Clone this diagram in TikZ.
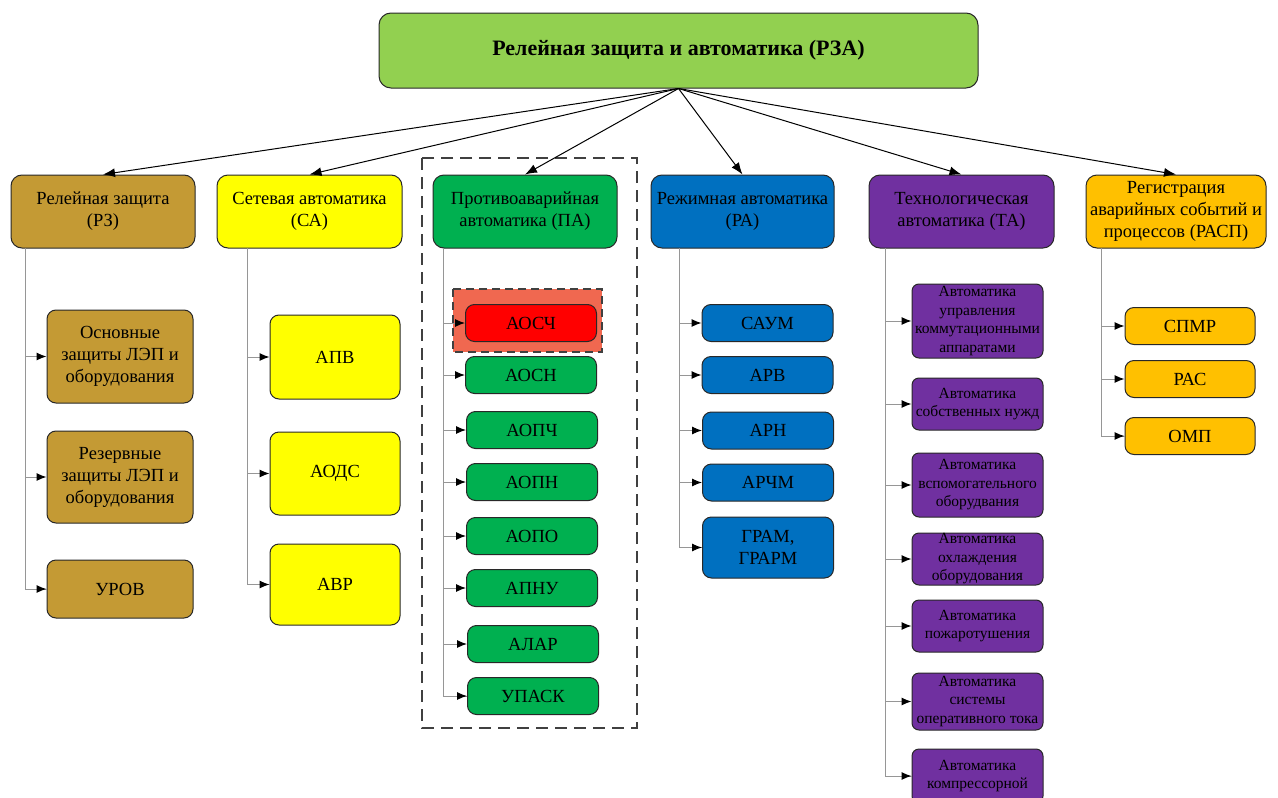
\documentclass[tikz,border=0pt]{standalone}
\usepackage{fontspec}
\setmainfont{Liberation Serif}
\usetikzlibrary{arrows.meta}
\definecolor{cTop}{HTML}{92D050}
\definecolor{cRZ}{RGB}{196,154,52}
\definecolor{cSA}{HTML}{FFFF00}
\definecolor{cPA}{HTML}{00B050}
\definecolor{cRA}{HTML}{0070C0}
\definecolor{cTA}{HTML}{7030A0}
\definecolor{cRASP}{HTML}{FFC000}
\definecolor{cRed}{HTML}{FF0000}
\definecolor{cHi}{RGB}{240,104,80}
\definecolor{cLine}{RGB}{150,150,150}
\definecolor{cBorder}{RGB}{40,40,40}
\tikzset{
  box/.style={draw=cBorder, line width=1pt, rounded corners=9pt, align=center, inner sep=0pt,
    font=\fontsize{18.5}{22}\selectfont},
  hdr/.style={box, minimum height=73pt, rounded corners=11pt},
  small/.style={box, rounded corners=7pt, font=\fontsize{15.5}{18.5}\selectfont},
  toparrow/.style={draw=black, line width=1pt, -{Latex[length=12pt,width=9pt]}},
  vline/.style={draw=cLine, line width=1pt},
  harrow/.style={draw=cLine, line width=1pt, -{Latex[length=10pt,width=8pt,black]}},
}
\begin{document}
\begin{tikzpicture}[x=1pt,y=-1pt]
\useasboundingbox (0,0) rectangle (1278,798);

% dashed frame around PA
\draw[draw=black!75, line width=1.4pt, dash pattern=on 12pt off 7pt] (422,158) rectangle (637,728);
% highlight around AOSCh
\draw[fill=cHi, draw=black!75, line width=1.2pt, dash pattern=on 8pt off 5pt] (453,289) rectangle (602,352);

% top node
\node[box, fill=cTop, minimum width=599pt, minimum height=75pt, rounded corners=12pt,
  font=\bfseries\fontsize{22}{26}\selectfont] (top) at (678.5,50.5) {Релейная защита и автоматика (РЗА)};

% headers
\node[hdr, fill=cRZ, minimum width=184pt] (rz) at (103,211.5) {Релейная защита\\(РЗ)};
\node[hdr, fill=cSA, minimum width=185pt] (sa) at (309.5,211.5) {Сетевая автоматика\\(СА)};
\node[hdr, fill=cPA, minimum width=184pt] (pa) at (525,211.5) {Противоаварийная\\автоматика (ПА)};
\node[hdr, fill=cRA, minimum width=183pt] (ra) at (742.5,211.5) {Режимная автоматика\\(РА)};
\node[hdr, fill=cTA, minimum width=185pt] (ta) at (961.5,211.5) {Технологическая\\автоматика (ТА)};
\node[hdr, fill=cRASP, minimum width=180pt] (rasp) at (1176,211.5) {Регистрация\\аварийных событий и\\процессов (РАСП)};

\foreach \n in {rz,sa,pa,ra,ta,rasp} \draw[toparrow] (top.south) -- (\n.north);

% RZ children
\node[box, fill=cRZ, minimum width=146pt, minimum height=93pt] (osn) at (120,356.5) {Основные\\защиты ЛЭП и\\оборудования};
\node[box, fill=cRZ, minimum width=146pt, minimum height=92pt] (rez) at (120,477) {Резервные\\защиты ЛЭП и\\оборудования};
\node[box, fill=cRZ, minimum width=146pt, minimum height=58pt] (urov) at (120,589) {УРОВ};
\coordinate (rzl) at (25,248);
\draw[vline] (rzl) |- (urov.west);
\foreach \n in {osn,rez,urov} \draw[harrow] (rzl |- \n.west) -- (\n.west);

% SA children
\node[box, fill=cSA, minimum width=130pt, minimum height=84pt] (apv) at (335,357) {АПВ};
\node[box, fill=cSA, minimum width=130pt, minimum height=83pt] (aods) at (335,473.5) {АОДС};
\node[box, fill=cSA, minimum width=130pt, minimum height=81pt] (avr) at (335,584.5) {АВР};
\coordinate (sal) at (247,248);
\draw[vline] (sal) |- (avr.west);
\foreach \n in {apv,aods,avr} \draw[harrow] (sal |- \n.west) -- (\n.west);

% PA children
\node[box, fill=cRed, minimum width=131pt, minimum height=37pt] (aosch) at (531,323) {АОСЧ};
\node[box, fill=cPA, minimum width=131pt, minimum height=37pt] (aosn) at (531,375) {АОСН};
\node[box, fill=cPA, minimum width=131pt, minimum height=37pt] (aopch) at (532,430) {АОПЧ};
\node[box, fill=cPA, minimum width=131pt, minimum height=37pt] (aopn) at (532,482) {АОПН};
\node[box, fill=cPA, minimum width=131pt, minimum height=37pt] (aopo) at (532,536) {АОПО};
\node[box, fill=cPA, minimum width=131pt, minimum height=37pt] (apnu) at (532,588) {АПНУ};
\node[box, fill=cPA, minimum width=131pt, minimum height=37pt] (alar) at (533,644) {АЛАР};
\node[box, fill=cPA, minimum width=131pt, minimum height=37pt] (upask) at (533,696) {УПАСК};
\coordinate (pal) at (443,248);
\draw[vline] (pal) |- (upask.west);
\foreach \n in {aosch,aosn,aopch,aopn,aopo,apnu,alar,upask} \draw[harrow] (pal |- \n.west) -- (\n.west);

% RA children
\node[box, fill=cRA, minimum width=131pt, minimum height=37pt] (saum) at (767.5,323) {САУМ};
\node[box, fill=cRA, minimum width=131pt, minimum height=37pt] (arv) at (767.5,375) {АРВ};
\node[box, fill=cRA, minimum width=131pt, minimum height=37pt] (arn) at (768,430.5) {АРН};
\node[box, fill=cRA, minimum width=131pt, minimum height=37pt] (archm) at (768,482.5) {АРЧМ};
\node[box, fill=cRA, minimum width=131pt, minimum height=61pt] (gram) at (768,547.5) {ГРАМ,\\ГРАРМ};
\coordinate (ral) at (679,248);
\draw[vline] (ral) |- (gram.west);
\foreach \n in {saum,arv,arn,archm,gram} \draw[harrow] (ral |- \n.west) -- (\n.west);

% TA children
\node[small, fill=cTA, minimum width=131pt, minimum height=74pt] (upr) at (977.5,321) {Автоматика\\управления\\коммутационными\\аппаратами};
\node[small, fill=cTA, minimum width=131pt, minimum height=52pt] (sobst) at (977.5,404) {Автоматика\\собственных нужд};
\node[small, fill=cTA, minimum width=131pt, minimum height=64pt] (vspom) at (977.5,485) {Автоматика\\вспомогательного\\оборудвания};
\node[small, fill=cTA, minimum width=131pt, minimum height=52pt] (ohl) at (977.5,559) {Автоматика\\охлаждения\\оборудования};
\node[small, fill=cTA, minimum width=131pt, minimum height=52pt] (pozh) at (977.5,626) {Автоматика\\пожаротушения};
\node[small, fill=cTA, minimum width=131pt, minimum height=57pt] (oper) at (977.5,701.5) {Автоматика\\системы\\оперативного тока};
\node[small, fill=cTA, minimum width=131pt, minimum height=54pt] (kompr) at (977.5,776) {Автоматика\\компрессорной};
\coordinate (tal) at (885,248);
\draw[vline] (tal) |- (kompr.west);
\foreach \n in {upr,sobst,vspom,ohl,pozh,oper,kompr} \draw[harrow] (tal |- \n.west) -- (\n.west);

% RASP children
\node[box, fill=cRASP, minimum width=130pt, minimum height=37pt] (spmr) at (1190,326) {СПМР};
\node[box, fill=cRASP, minimum width=130pt, minimum height=37pt] (ras) at (1190,379) {РАС};
\node[box, fill=cRASP, minimum width=130pt, minimum height=37pt] (omp) at (1190,436) {ОМП};
\coordinate (raspl) at (1101,248);
\draw[vline] (raspl) |- (omp.west);
\foreach \n in {spmr,ras,omp} \draw[harrow] (raspl |- \n.west) -- (\n.west);
\end{tikzpicture}
\end{document}
